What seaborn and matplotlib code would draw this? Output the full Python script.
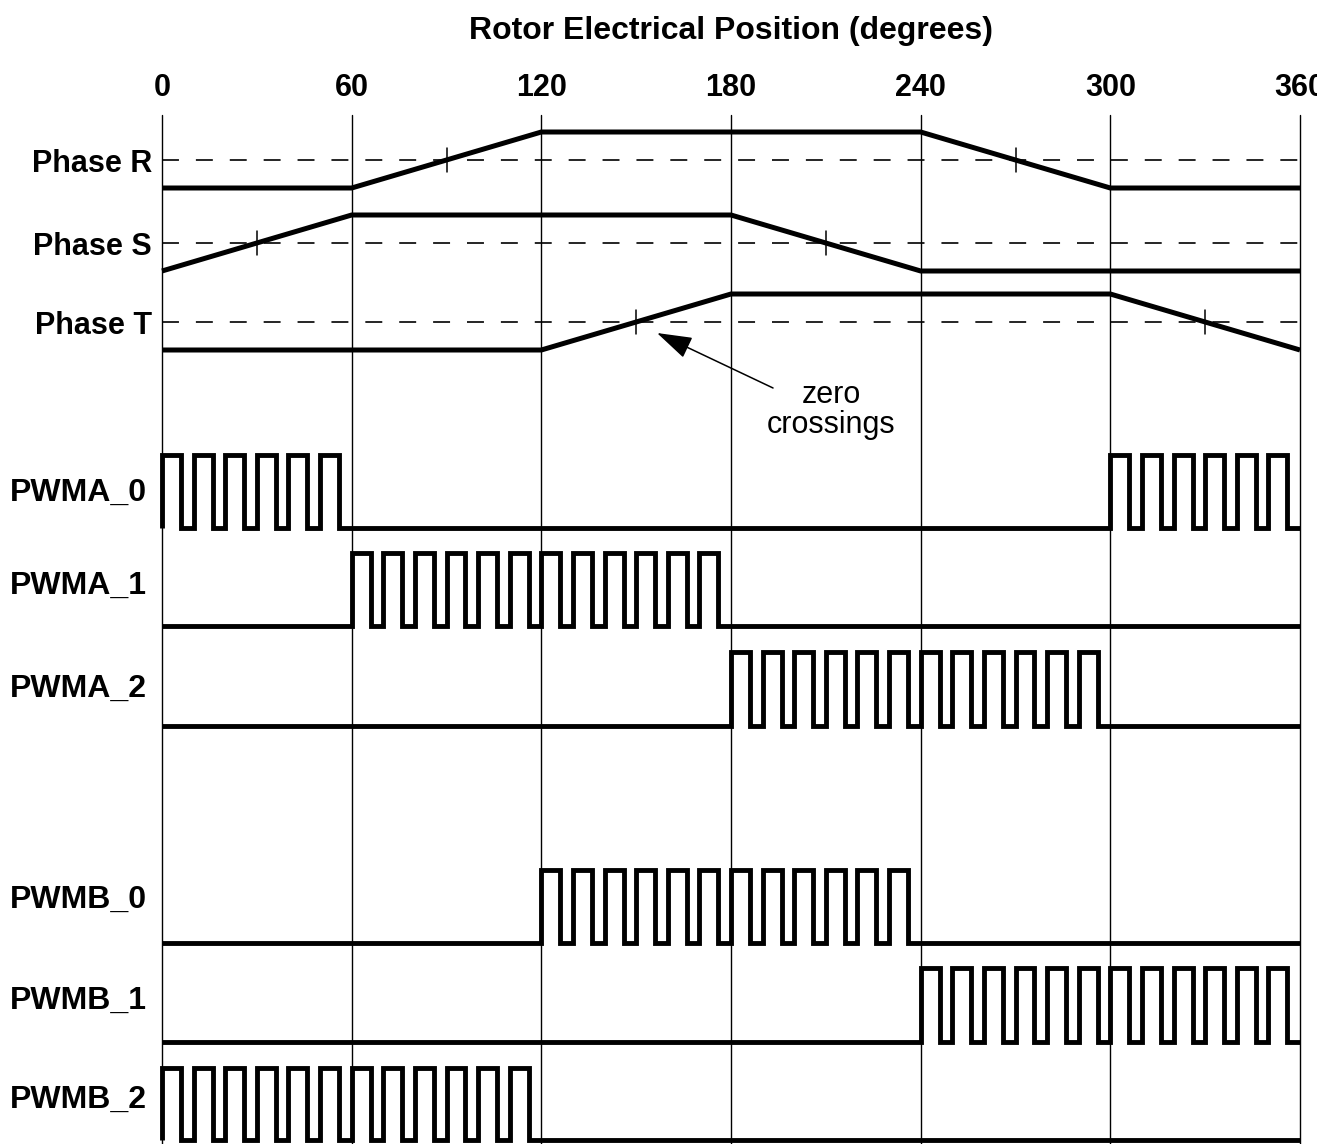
import numpy as np
import pandas as pd
import matplotlib
matplotlib.use("Agg")
import matplotlib.pyplot as plt
from matplotlib.transforms import Bbox
import seaborn as sns

# rotor position axis
deg_ticks = [0, 60, 120, 180, 240, 300, 360]

# back-EMF phase waveforms (breakpoints in degrees, normalized level)
phase_names = ["Phase R", "Phase S", "Phase T"]
phase_deg = [[0, 60, 120, 240, 300, 360],
             [0, 60, 180, 240, 360],
             [0, 120, 180, 300, 360]]
phase_val = [[-1, -1, 1, 1, -1, -1],
             [-1, 1, 1, -1, -1],
             [-1, -1, 1, 1, -1]]
zero_cross = [[90, 270], [30, 210], [150, 330]]

# PWM outputs: windows where the channel is modulated
pwm_names = ["PWMA_0", "PWMA_1", "PWMA_2", "PWMB_0", "PWMB_1", "PWMB_2"]
pwm_on_from = [[0, 300], [60], [180], [120], [240], [0]]
pwm_on_to = [[60, 360], [180], [300], [240], [360], [120]]
pwm_period = 10
pwm_high = 6

# layout, in pixel rows of the 1334x1144 figure
phase_row = [160, 243, 322]
phase_amp = 28
pwm_hi_row = [455, 553, 652, 870, 968, 1068]
pwm_lo_row = [528, 626, 726, 943, 1042, 1140]
pwm_label_row = [493, 586, 689, 900, 1001, 1100]

sns.set_theme(style="white")
plt.rcParams["font.family"] = ["Liberation Sans", "DejaVu Sans"]
plt.rcParams["lines.scale_dashes"] = False
plt.rcParams["text.color"] = "black"
plt.rcParams["xtick.color"] = "black"
plt.rcParams["axes.labelcolor"] = "black"

W, H = 1334, 1144
x0, x1 = 162, 1300
top = 115
fig = plt.figure(figsize=(W / 100, H / 100), dpi=100)
ax = fig.add_axes([x0 / W, 0, (x1 - x0) / W, (H - top) / H])
ax.set_xlim(0, 360)
ax.set_ylim(H, top)

def draw(df, lw):
    sns.lineplot(data=df, x="deg", y="y", ax=ax, sort=False, estimator=None,
                 color="black", lw=lw, legend=False, clip_on=False,
                 solid_capstyle="butt", solid_joinstyle="miter")

# phases
for i, name in enumerate(phase_names):
    yc = phase_row[i]
    ax.plot([0, 360], [yc, yc], color="black", lw=1.2, dashes=(12.2, 12.2),
            clip_on=False)
    df = pd.DataFrame({"deg": phase_deg[i],
                       "y": [yc - v * phase_amp for v in phase_val[i]]})
    draw(df, 3.6)
    for zc in zero_cross[i]:
        ax.plot([zc, zc], [yc - 12, yc + 12], color="black", lw=1.1)
    ax.text(-3.2, yc + 4, name, ha="right", va="center", fontsize=22,
            fontweight="bold", color="black")

# pwm channels
for i, name in enumerate(pwm_names):
    hi, lo = pwm_hi_row[i], pwm_lo_row[i]
    xs, ys = [0], [lo]
    for a, b in zip(pwm_on_from[i], pwm_on_to[i]):
        for s in range(a, b, pwm_period):
            xs += [s, s, s + pwm_high, s + pwm_high]
            ys += [lo, hi, hi, lo]
    xs.append(360)
    ys.append(lo)
    draw(pd.DataFrame({"deg": xs, "y": ys}), 3.5)
    ax.text(-4.7, pwm_label_row[i], name, ha="right", va="center",
            fontsize=23, fontweight="bold", color="black")

# annotation
ax.annotate("", xy=(156.6, 333), xytext=(193.3, 388),
            arrowprops=dict(arrowstyle="-|>,head_length=1.1,head_width=0.35",
                            color="black", lw=1.1, shrinkA=0, shrinkB=0,
                            mutation_scale=20))
ax.text(211.6, 410, "zero\ncrossings", ha="center", va="center",
        fontsize=22, linespacing=1.0, color="black")

# axis styling
ax.set_yticks([])
ax.set_xticks(deg_ticks)
ax.xaxis.tick_top()
ax.tick_params(axis="x", length=0, pad=9, labelsize=22, labelcolor="black")
ax.set_xticklabels([str(d) for d in deg_ticks], fontweight="bold")
ax.xaxis.set_label_position("top")
ax.set_xlabel("Rotor Electrical Position (degrees)", fontsize=23,
              fontweight="bold", labelpad=24, color="black")
ax.xaxis.grid(True, color="black", lw=1.0)
ax.set_ylabel("")
for sp in ax.spines.values():
    sp.set_visible(False)
for gl in ax.get_xgridlines():
    gl.set_clip_on(False)
for lab in ax.get_xticklabels():
    lab.set_clip_on(True)
    lab.set_clip_box(Bbox.from_extents(0, 0, 1317, H))

fig.savefig("out.png", dpi=100, facecolor="white")
